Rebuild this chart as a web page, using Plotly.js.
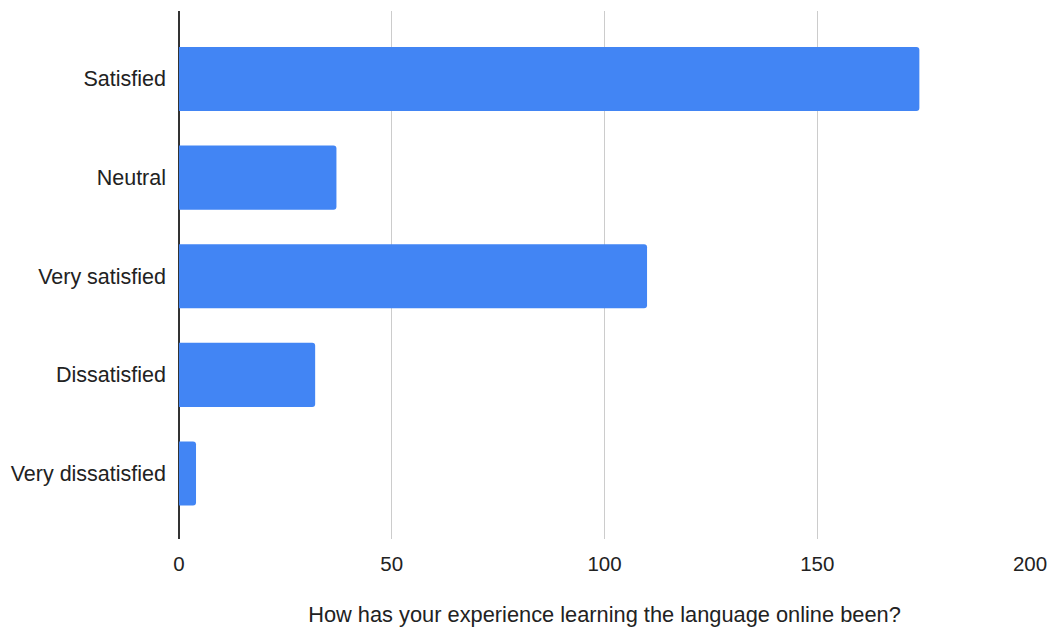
<!DOCTYPE html>
<html>
<head>
<meta charset="utf-8">
<script src="https://cdn.plot.ly/plotly-3.0.1.min.js"></script>
<style>html,body{margin:0;padding:0;background:#fff;}#chart{width:1051px;height:627px;}</style>
</head>
<body>
<div id="chart"></div>
<script>
const categories = ["Satisfied", "Neutral", "Very satisfied", "Dissatisfied", "Very dissatisfied"];
const counts = [174, 37, 110, 32, 4];
const xTicks = [0, 50, 100, 150, 200];
const xTitle = "How has your experience learning the language online been?";

const trace = {
  type: 'bar',
  orientation: 'h',
  y: categories,
  x: counts,
  width: 0.65,
  marker: {color: '#4285F4', cornerradius: 3, line: {width: 0}},
  hoverinfo: 'x+y'
};

const layout = {
  width: 1051,
  height: 627,
  margin: {l: 179, r: 21, t: 11, b: 88, pad: 0},
  paper_bgcolor: '#ffffff',
  plot_bgcolor: '#ffffff',
  font: {family: 'Arial, "Liberation Sans", sans-serif', color: '#222222', size: 20},
  showlegend: false,
  bargap: 0.35,
  xaxis: {
    range: [0, 200],
    tickvals: xTicks,
    ticktext: xTicks.map(String),
    showgrid: true,
    gridcolor: '#cccccc',
    gridwidth: 1,
    zeroline: true,
    zerolinecolor: '#333333',
    zerolinewidth: 1.3,
    showline: false,
    ticks: '',
    ticklabelstandoff: 10,
    tickfont: {size: 20.5, color: '#222222'},
    title: {text: xTitle, font: {size: 21.8, color: '#222222'}, standoff: 34}
  },
  yaxis: {
    type: 'category',
    range: [4.664, -0.689],
    showgrid: false,
    zeroline: false,
    showline: false,
    ticks: '',
    ticklabelstandoff: 12,
    tickfont: {size: 21.5, color: '#222222'}
  }
};

Plotly.newPlot('chart', [trace], layout, {displayModeBar: false, staticPlot: true});
</script>
</body>
</html>
